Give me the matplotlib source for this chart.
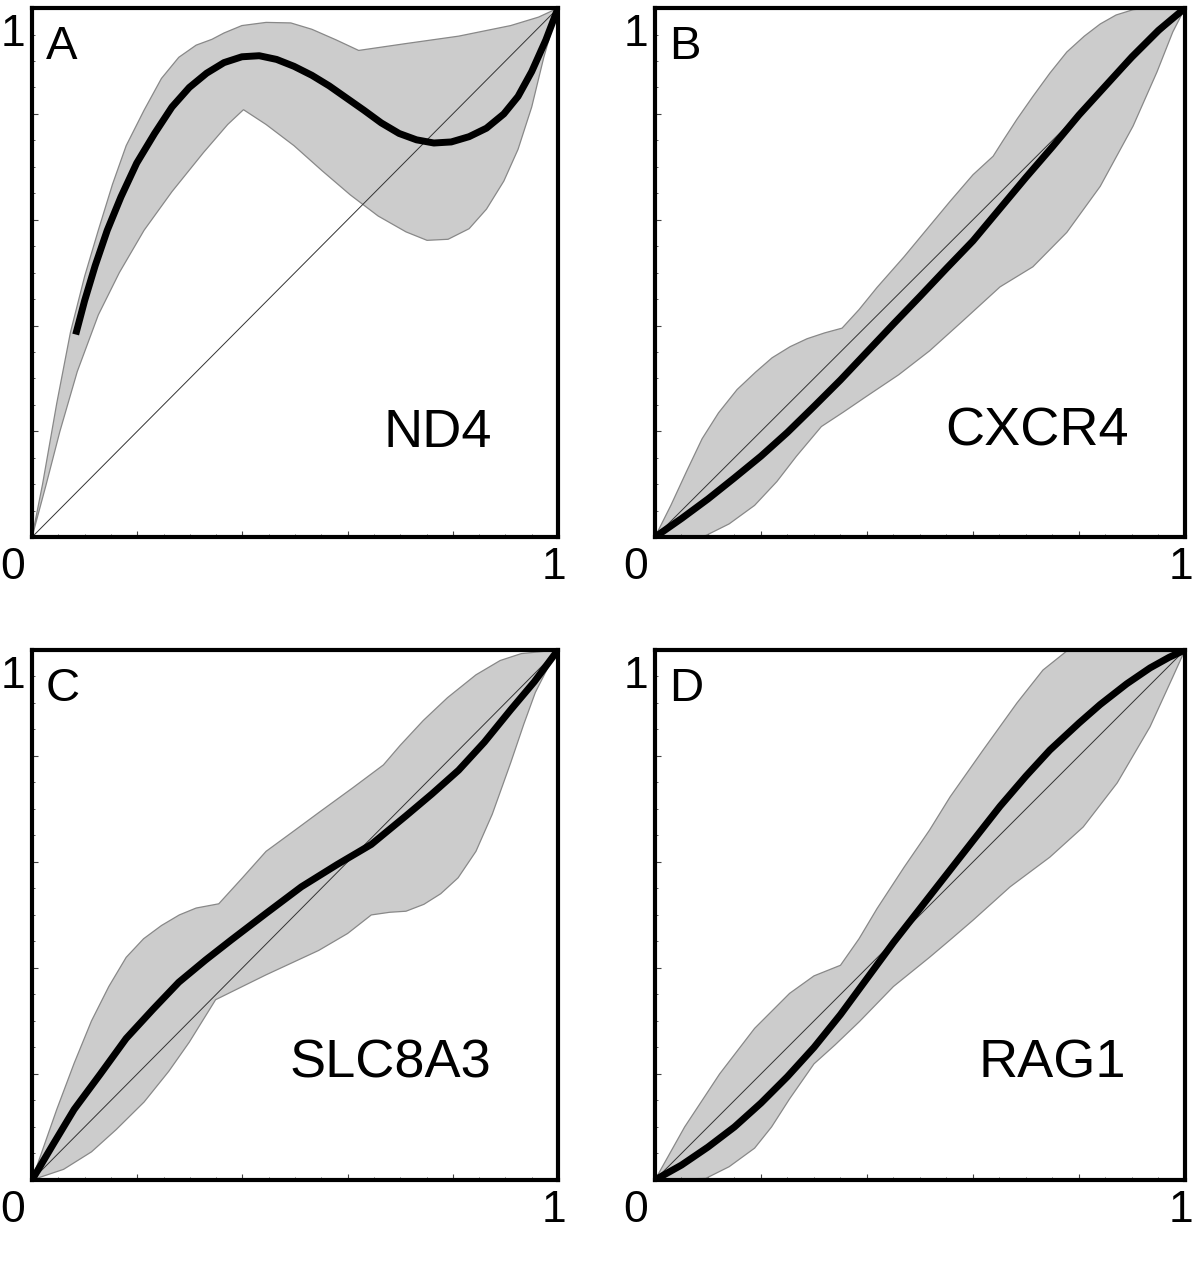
import numpy as np
import matplotlib.pyplot as plt
from matplotlib.ticker import MultipleLocator

plt.rcParams['font.family'] = ['Liberation Sans', 'DejaVu Sans']

panels = ['A', 'B', 'C', 'D']
genes = ['ND4', 'CXCR4', 'SLC8A3', 'RAG1']

# mean curves (x, y)
mean_x = {
    'A': [0.083, 0.100, 0.120, 0.143, 0.169, 0.199, 0.233, 0.266, 0.299, 0.332, 0.365, 0.399, 0.432, 0.465,
          0.498, 0.532, 0.565, 0.598, 0.631, 0.664, 0.698, 0.731, 0.764, 0.797, 0.831, 0.864, 0.897, 0.924,
          0.950, 0.977, 1.0],
    'B': [0.0, 0.05, 0.1, 0.15, 0.2, 0.25, 0.3, 0.35, 0.4, 0.45, 0.5, 0.55, 0.6, 0.65, 0.7, 0.75, 0.8, 0.85,
          0.9, 0.95, 1.0],
    'C': [0.0, 0.04, 0.08, 0.13, 0.179, 0.23, 0.279, 0.33, 0.379, 0.445, 0.512, 0.58, 0.645, 0.711, 0.76,
          0.811, 0.86, 0.91, 0.955, 1.0],
    'D': [0.0, 0.05, 0.1, 0.15, 0.2, 0.25, 0.3, 0.35, 0.4, 0.45, 0.5, 0.557, 0.6, 0.651, 0.7, 0.745, 0.8,
          0.84, 0.89, 0.934, 0.97, 1.0],
}
mean_y = {
    'A': [0.383, 0.447, 0.513, 0.580, 0.643, 0.707, 0.763, 0.813, 0.850, 0.877, 0.897, 0.908, 0.910, 0.903,
          0.890, 0.873, 0.853, 0.830, 0.807, 0.783, 0.763, 0.751, 0.745, 0.747, 0.757, 0.773, 0.800, 0.833,
          0.880, 0.940, 1.0],
    'B': [0.0, 0.035, 0.072, 0.112, 0.153, 0.198, 0.247, 0.297, 0.35, 0.403, 0.455, 0.508, 0.56, 0.62, 0.68,
          0.738, 0.798, 0.853, 0.908, 0.958, 1.0],
    'C': [0.0, 0.067, 0.133, 0.2, 0.267, 0.322, 0.373, 0.415, 0.453, 0.503, 0.553, 0.595, 0.633, 0.687, 0.728,
          0.773, 0.826, 0.887, 0.94, 1.0],
    'D': [0.0, 0.028, 0.062, 0.1, 0.145, 0.195, 0.25, 0.312, 0.38, 0.448, 0.512, 0.585, 0.64, 0.705, 0.762,
          0.811, 0.862, 0.897, 0.936, 0.966, 0.986, 1.0],
}

# upper edge of the grey band
upper_x = {
    'A': [0.0, 0.02, 0.047, 0.073, 0.1, 0.126, 0.153, 0.179, 0.213, 0.246, 0.279, 0.312, 0.342, 0.365, 0.399,
          0.445, 0.492, 0.532, 0.578, 0.621, 0.711, 0.811, 0.910, 0.963, 1.0],
    'B': [0.0, 0.03, 0.06, 0.089, 0.12, 0.155, 0.19, 0.221, 0.255, 0.287, 0.32, 0.353, 0.385, 0.419, 0.47,
          0.518, 0.557, 0.6, 0.638, 0.657, 0.683, 0.713, 0.745, 0.777, 0.81, 0.84, 0.87, 0.902, 0.93, 1.0],
    'C': [0.0, 0.047, 0.08, 0.113, 0.146, 0.179, 0.212, 0.246, 0.28, 0.312, 0.355, 0.4, 0.445, 0.5, 0.545,
          0.61, 0.668, 0.7, 0.744, 0.79, 0.844, 0.89, 0.93, 1.0],
    'D': [0.0, 0.056, 0.122, 0.188, 0.254, 0.3, 0.35, 0.385, 0.419, 0.47, 0.518, 0.557, 0.619, 0.683, 0.732,
          0.777, 0.79, 1.0],
}
upper_y = {
    'A': [0.0, 0.1, 0.253, 0.387, 0.493, 0.58, 0.667, 0.74, 0.807, 0.867, 0.907, 0.93, 0.941, 0.953, 0.967,
          0.973, 0.972, 0.96, 0.94, 0.92, 0.933, 0.947, 0.967, 0.983, 1.0],
    'B': [0.0, 0.06, 0.125, 0.186, 0.235, 0.279, 0.312, 0.339, 0.36, 0.375, 0.386, 0.395, 0.43, 0.472, 0.53,
          0.588, 0.635, 0.685, 0.72, 0.75, 0.79, 0.833, 0.877, 0.917, 0.947, 0.97, 0.987, 0.997, 1.0, 1.0],
    'C': [0.0, 0.133, 0.22, 0.3, 0.365, 0.42, 0.455, 0.48, 0.5, 0.513, 0.521, 0.57, 0.62, 0.66, 0.693,
          0.74, 0.783, 0.82, 0.867, 0.91, 0.953, 0.98, 0.993, 1.0],
    'D': [0.0, 0.1, 0.2, 0.286, 0.352, 0.385, 0.405, 0.455, 0.512, 0.59, 0.66, 0.723, 0.811, 0.9, 0.962,
          0.998, 1.0, 1.0],
}

# lower edge of the grey band
lower_x = {
    'A': [0.0, 0.027, 0.053, 0.086, 0.126, 0.166, 0.213, 0.266, 0.326, 0.372, 0.402, 0.445, 0.498, 0.551,
          0.605, 0.658, 0.711, 0.751, 0.791, 0.831, 0.864, 0.897, 0.924, 0.95, 0.973, 1.0],
    'B': [0.0, 0.05, 0.096, 0.14, 0.188, 0.23, 0.267, 0.314, 0.355, 0.399, 0.46, 0.518, 0.58, 0.651, 0.713,
          0.777, 0.84, 0.902, 0.947, 0.977, 1.0],
    'C': [0.0, 0.06, 0.113, 0.16, 0.213, 0.26, 0.299, 0.349, 0.4, 0.445, 0.545, 0.6, 0.645, 0.68, 0.711,
          0.745, 0.777, 0.81, 0.844, 0.875, 0.91, 0.935, 0.957, 0.98, 1.0],
    'D': [0.0, 0.096, 0.14, 0.188, 0.22, 0.254, 0.3, 0.34, 0.386, 0.45, 0.518, 0.557, 0.6, 0.67, 0.745,
          0.808, 0.872, 0.934, 0.977, 1.0],
}
lower_y = {
    'A': [0.0, 0.1, 0.2, 0.313, 0.42, 0.5, 0.58, 0.653, 0.727, 0.78, 0.808, 0.78, 0.74, 0.693, 0.647, 0.607,
          0.577, 0.561, 0.563, 0.583, 0.62, 0.673, 0.733, 0.813, 0.907, 1.0],
    'B': [0.0, 0.0, 0.003, 0.025, 0.06, 0.105, 0.153, 0.209, 0.236, 0.266, 0.307, 0.352, 0.408, 0.473,
          0.511, 0.576, 0.663, 0.777, 0.879, 0.955, 1.0],
    'C': [0.0, 0.02, 0.053, 0.095, 0.147, 0.205, 0.26, 0.34, 0.365, 0.387, 0.433, 0.465, 0.5, 0.505, 0.507,
          0.52, 0.54, 0.57, 0.62, 0.69, 0.787, 0.86, 0.92, 0.965, 1.0],
    'D': [0.0, 0.003, 0.025, 0.06, 0.1, 0.153, 0.219, 0.255, 0.299, 0.365, 0.42, 0.453, 0.49, 0.553, 0.609,
          0.666, 0.749, 0.855, 0.949, 1.0],
}

label_pos = {'A': (0.772, 0.17), 'B': (0.72, 0.173), 'C': (0.682, 0.193), 'D': (0.75, 0.193)}

fig = plt.figure(figsize=(12, 12.88), dpi=100, facecolor='w')
boxes = {
    'A': [0.0267, 0.583, 0.4383, 0.4107],
    'B': [0.5458, 0.583, 0.4417, 0.4107],
    'C': [0.0267, 0.0839, 0.4383, 0.4115],
    'D': [0.5458, 0.0839, 0.4417, 0.4115],
}

for p, g in zip(panels, genes):
    ax = fig.add_axes(boxes[p])
    bx = np.concatenate([upper_x[p], lower_x[p][::-1]])
    by = np.concatenate([upper_y[p], lower_y[p][::-1]])
    ax.fill(bx, by, facecolor='#cccccc', edgecolor='#888888', linewidth=0.9, zorder=1)
    ax.plot([0, 1], [0, 1], color='#333333', linewidth=0.7, zorder=2)
    ax.plot(mean_x[p], mean_y[p], color='black', linewidth=5, solid_capstyle='butt',
            solid_joinstyle='round', zorder=3)
    ax.set_xlim(0, 1)
    ax.set_ylim(0, 1)
    for s in ax.spines.values():
        s.set_linewidth(3)
    ax.xaxis.set_major_locator(MultipleLocator(0.2))
    ax.xaxis.set_minor_locator(MultipleLocator(0.05))
    ax.yaxis.set_major_locator(MultipleLocator(0.2))
    ax.yaxis.set_minor_locator(MultipleLocator(0.05))
    ax.tick_params(which='both', direction='in', labelbottom=False, labelleft=False,
                   top=False, right=False, color='#444444')
    ax.tick_params(which='major', length=4, width=0.8)
    ax.tick_params(which='minor', length=2, width=0.6)
    ax.text(0.026, 0.968, p, transform=ax.transAxes, fontsize=34, va='top', ha='left')
    ax.text(label_pos[p][0], label_pos[p][1], g, transform=ax.transAxes, fontsize=39,
            va='baseline', ha='center')
    ax.text(-0.036, -0.058, '0', transform=ax.transAxes, fontsize=32, va='center', ha='center')
    ax.text(0.992, -0.058, '1', transform=ax.transAxes, fontsize=32, va='center', ha='center')
    ax.text(-0.036, 0.95, '1', transform=ax.transAxes, fontsize=32, va='center', ha='center')

plt.savefig('out.png', dpi=100)
